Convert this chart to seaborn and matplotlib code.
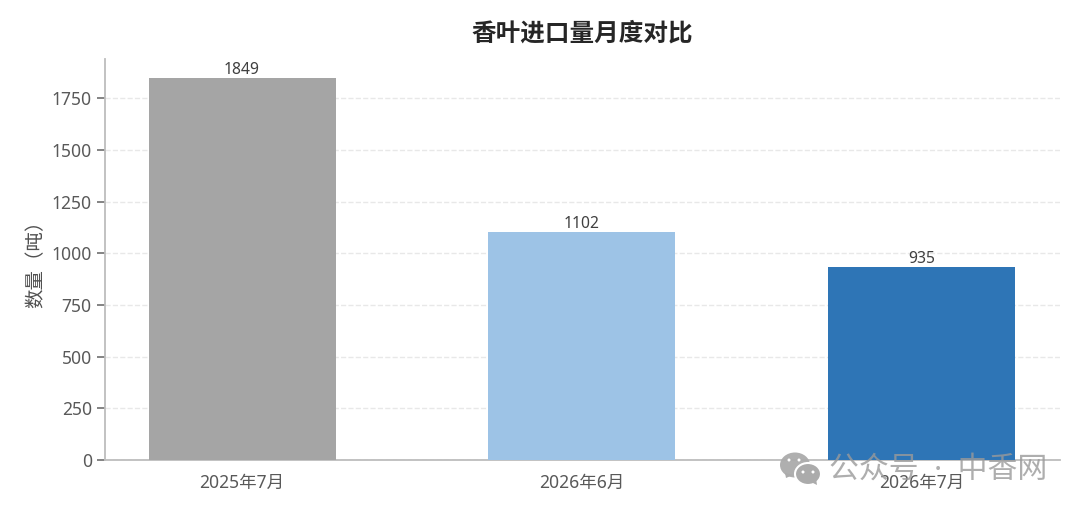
import matplotlib
matplotlib.use('Agg')
import matplotlib.pyplot as plt
from matplotlib.patches import Ellipse, Polygon
import seaborn as sns
import pandas as pd

# data
months = ['2025年7月', '2026年6月', '2026年7月']
tons = [1849, 1102, 935]
bar_colors = ['#a5a5a5', '#9dc3e6', '#2e75b6']
y_ticks = [0, 250, 500, 750, 1000, 1250, 1500, 1750]

sns.set_theme(style='white')
plt.rcParams['font.family'] = ['Noto Sans', 'Noto Sans CJK SC', 'DejaVu Sans']

df = pd.DataFrame({'month': months, 'tons': tons})

fig = plt.figure(figsize=(10.8, 5.13), dpi=100)
ax = fig.add_axes([105 / 1080, 1 - 460 / 513, 955 / 1080, 401 / 513])

sns.barplot(data=df, x='month', y='tons', hue='month', palette=bar_colors,
            width=0.55, legend=False, saturation=1, linewidth=0, ax=ax, zorder=3)

ax.set_xlim(-0.403, 2.406)
ax.set_ylim(0, 1941)
ax.set_yticks(y_ticks)
ax.grid(axis='y', linestyle='--', color='#e8e8e8', linewidth=1.0, zorder=0)
ax.set_axisbelow(True)

for container in ax.containers:
    ax.bar_label(container, padding=0, fontsize=11.3, color='#404040')

ax.set_title('香叶进口量月度对比', fontsize=17.7, fontweight='bold', color='#262626', pad=13)
ax.set_xlabel('')
ax.set_ylabel('数量（吨）', fontsize=14, color='#505050', labelpad=4)
ax.tick_params(axis='both', labelsize=12.6, labelcolor='#595959', color='#6e6e6e',
               length=6, width=1.2, left=True, bottom=False)
ax.tick_params(axis='x', pad=4)

sns.despine(ax=ax)
for side in ['left', 'bottom']:
    ax.spines[side].set_color('#bdbdbd')
    ax.spines[side].set_linewidth(1.3)

# watermark, pixel coordinates of the figure
overlay = fig.add_axes([0, 0, 1, 1], facecolor='none')
overlay.set_xlim(0, 1080)
overlay.set_ylim(513, 0)
overlay.axis('off')
wm = '#ababab'
overlay.add_patch(Ellipse((795, 465), 30, 25, color=wm, alpha=0.95, lw=0))
overlay.add_patch(Polygon([(785, 473), (786, 478), (793, 475)], color=wm, lw=0))
overlay.add_patch(Ellipse((808, 474), 26, 22, color=wm, ec='white', lw=1.5))
overlay.add_patch(Polygon([(811, 482), (817, 485), (816, 478)], color=wm, lw=0))
for x, y, r in [(789, 460, 3), (799, 460, 3), (803, 472, 3), (813, 472, 3)]:
    overlay.add_patch(Ellipse((x, y), r, r, color='white', lw=0))
overlay.text(829, 470, '公众号  ·  中香网', fontsize=21.5, color='#9a9a9a', alpha=0.8,
             ha='left', va='center')

fig.savefig('out.png', dpi=100, facecolor='white')
